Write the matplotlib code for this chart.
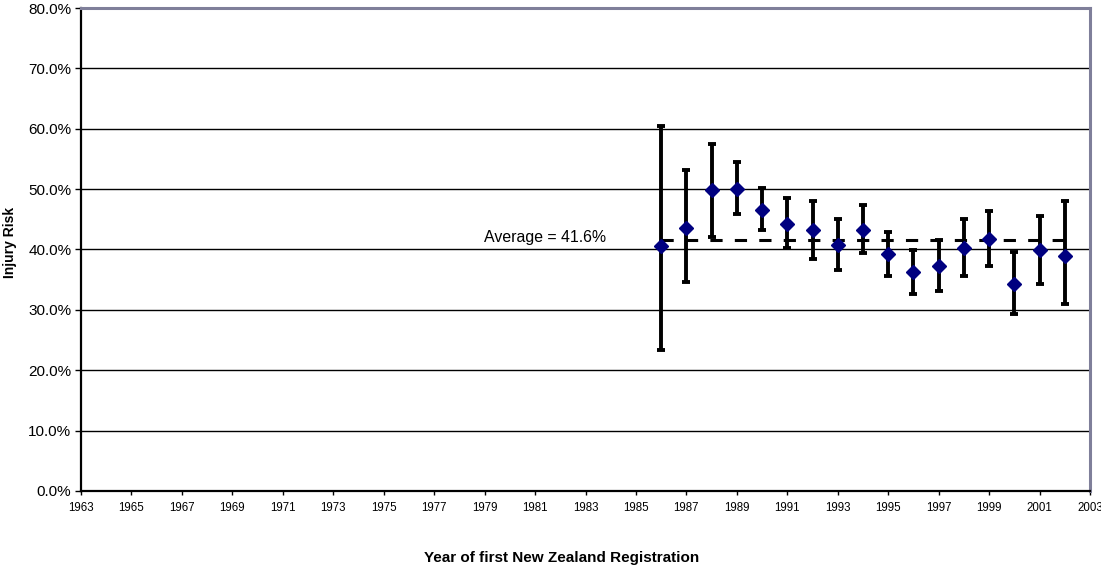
import matplotlib
matplotlib.use("Agg")
import matplotlib.pyplot as plt
from matplotlib.ticker import FuncFormatter, MultipleLocator

plt.rcParams['font.family'] = ['Liberation Sans', 'DejaVu Sans']

# injury risk by year of first NZ registration (percent)
years = [1986, 1987, 1988, 1989, 1990, 1991, 1992, 1993, 1994,
         1995, 1996, 1997, 1998, 1999, 2000, 2001, 2002]
risk = [40.5, 43.6, 49.8, 50.1, 46.6, 44.2, 43.2, 40.7, 43.3,
        39.2, 36.2, 37.3, 40.3, 41.7, 34.3, 39.9, 39.0]
upper = [60.5, 53.1, 57.5, 54.5, 50.2, 48.5, 48.0, 45.1, 47.3,
         42.9, 39.9, 41.5, 45.1, 46.4, 39.6, 45.6, 48.0]
lower = [23.4, 34.6, 42.0, 45.8, 43.2, 40.3, 38.5, 36.6, 39.5,
         35.6, 32.6, 33.2, 35.6, 37.3, 29.3, 34.3, 31.0]
average = 41.6
xticks = list(range(1963, 2004, 2))

err_lo = [r - l for r, l in zip(risk, lower)]
err_hi = [u - r for r, u in zip(risk, upper)]

fig = plt.figure(figsize=(11.01, 5.68), dpi=100)
ax = fig.add_axes([0.0736, 0.1356, 0.9164, 0.8503])

# gridlines
ax.set_axisbelow(True)
ax.yaxis.grid(True, color='black', linewidth=1.0)

# average line
ax.plot([years[0], years[-1]], [average, average], color='black',
        linewidth=2.2, linestyle=(0, (4, 4)), zorder=2)
ax.text(1983.8, 42.0, 'Average = 41.6%', ha='right', va='center', fontsize=11.4)

ax.errorbar(years, risk, yerr=[err_lo, err_hi], fmt='none', ecolor='black',
            elinewidth=2.8, capsize=2.9, capthick=2.8, zorder=3)
ax.plot(years, risk, linestyle='none', marker='D', markersize=7.5,
        color='#000080', zorder=4)

ax.set_xlim(1963, 2003)
ax.set_ylim(0, 80)
ax.set_xticks(xticks)
ax.yaxis.set_major_locator(MultipleLocator(10))
ax.yaxis.set_major_formatter(FuncFormatter(lambda v, p: f'{v:.1f}%'))
ax.tick_params(axis='y', labelsize=11, length=4, width=1, pad=3)
ax.tick_params(axis='x', labelsize=8.3, length=3, width=1, pad=5)

for s in ['left', 'bottom']:
    ax.spines[s].set_linewidth(1.6)
    ax.spines[s].set_color('black')
for s in ['top', 'right']:
    ax.spines[s].set_linewidth(2.2)
    ax.spines[s].set_color('#7f7f9a')

fig.text(10 / 1101, 1 - 242 / 568, 'Injury Risk', rotation=90, ha='center',
         va='center', fontsize=10, fontweight='bold')
fig.text(561.5 / 1101, 1 - 558 / 568, 'Year of first New Zealand Registration',
         ha='center', va='center', fontsize=11, fontweight='bold')

fig.savefig('out.png', dpi=100)
